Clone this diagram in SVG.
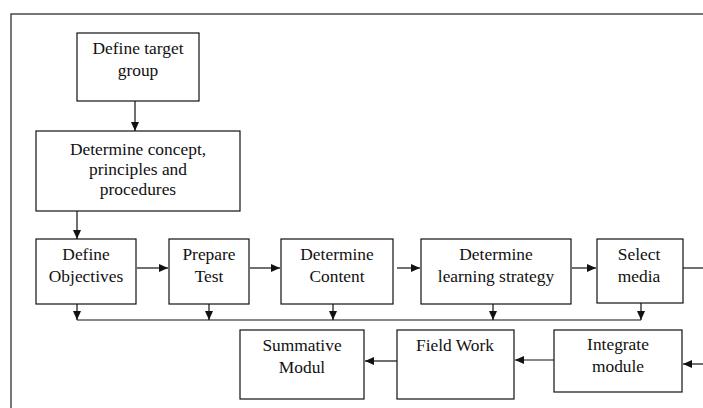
<svg xmlns="http://www.w3.org/2000/svg" width="703" height="408" viewBox="0 0 703 408">
<style>
.box{fill:#fff;stroke:#111;stroke-width:1.2}
.t{font-family:"Liberation Serif","Times New Roman",serif;font-size:17.4px;fill:#111;text-anchor:middle}
.c{fill:none;stroke:#111;stroke-width:1.2}
.frame{fill:none;stroke:#4a4a4a;stroke-width:1.5}
</style>
<defs>
<marker id="ah" markerUnits="userSpaceOnUse" markerWidth="10" markerHeight="10" viewBox="0 0 10 10" refX="9" refY="5" orient="auto">
<path d="M0,1 L9,5 L0,9 Z" fill="#111"/>
</marker>
</defs>
<polyline class="frame" points="11,408 11,14 703,14"/>
<g id="connectors">
<line class="c" x1="135" y1="101" x2="135" y2="131" marker-end="url(#ah)"/>
<line class="c" x1="77" y1="211" x2="77" y2="239" marker-end="url(#ah)"/>
<line class="c" x1="137" y1="268" x2="168" y2="268" marker-end="url(#ah)"/>
<line class="c" x1="250" y1="268" x2="280" y2="268" marker-end="url(#ah)"/>
<line class="c" x1="397" y1="268" x2="420" y2="268" marker-end="url(#ah)"/>
<line class="c" x1="572" y1="268" x2="596" y2="268" marker-end="url(#ah)"/>
<line class="c" x1="683" y1="268" x2="703" y2="268"/>
<line class="c" x1="77" y1="304" x2="77" y2="320" marker-end="url(#ah)"/>
<line class="c" x1="209" y1="304" x2="209" y2="320" marker-end="url(#ah)"/>
<line class="c" x1="333" y1="304" x2="333" y2="320" marker-end="url(#ah)"/>
<line class="c" x1="493" y1="304" x2="493" y2="320" marker-end="url(#ah)"/>
<line class="c" x1="641" y1="303" x2="641" y2="320" marker-end="url(#ah)"/>
<line class="c" x1="77" y1="320" x2="641" y2="320"/>
<line class="c" x1="397" y1="361" x2="365" y2="361" marker-end="url(#ah)"/>
<line class="c" x1="554" y1="360" x2="515" y2="360" marker-end="url(#ah)"/>
<line class="c" x1="703" y1="364" x2="683" y2="364" marker-end="url(#ah)"/>
</g>
<g id="target">
<rect class="box" x="77" y="33" width="122" height="68"/>
<text class="t" x="138" y="54">Define target</text>
<text class="t" x="138" y="76">group</text>
</g>
<g id="concept">
<rect class="box" x="36" y="131" width="204" height="80"/>
<text class="t" x="138" y="155">Determine concept,</text>
<text class="t" x="138" y="175">principles and</text>
<text class="t" x="138" y="195">procedures</text>
</g>
<g id="objectives">
<rect class="box" x="36" y="239" width="100" height="65"/>
<text class="t" x="86" y="260">Define</text>
<text class="t" x="86" y="282">Objectives</text>
</g>
<g id="test">
<rect class="box" x="169" y="239" width="80" height="65"/>
<text class="t" x="209" y="260">Prepare</text>
<text class="t" x="209" y="282">Test</text>
</g>
<g id="content">
<rect class="box" x="281" y="239" width="112" height="65"/>
<text class="t" x="337" y="260">Determine</text>
<text class="t" x="337" y="282">Content</text>
</g>
<g id="strategy">
<rect class="box" x="421" y="239" width="150" height="65"/>
<text class="t" x="496" y="260">Determine</text>
<text class="t" x="496" y="282">learning strategy</text>
</g>
<g id="media">
<rect class="box" x="597" y="239" width="86" height="64"/>
<text class="t" x="639" y="260">Select</text>
<text class="t" x="639" y="282">media</text>
</g>
<g id="summative">
<rect class="box" x="240" y="330" width="124" height="69"/>
<text class="t" x="302" y="351">Summative</text>
<text class="t" x="302" y="373">Modul</text>
</g>
<g id="fieldwork">
<rect class="box" x="397" y="330" width="117" height="69"/>
<text class="t" x="455" y="351">Field Work</text>
</g>
<g id="integrate">
<rect class="box" x="554" y="330" width="128" height="62"/>
<text class="t" x="618" y="350">Integrate</text>
<text class="t" x="618" y="372">module</text>
</g>
</svg>
